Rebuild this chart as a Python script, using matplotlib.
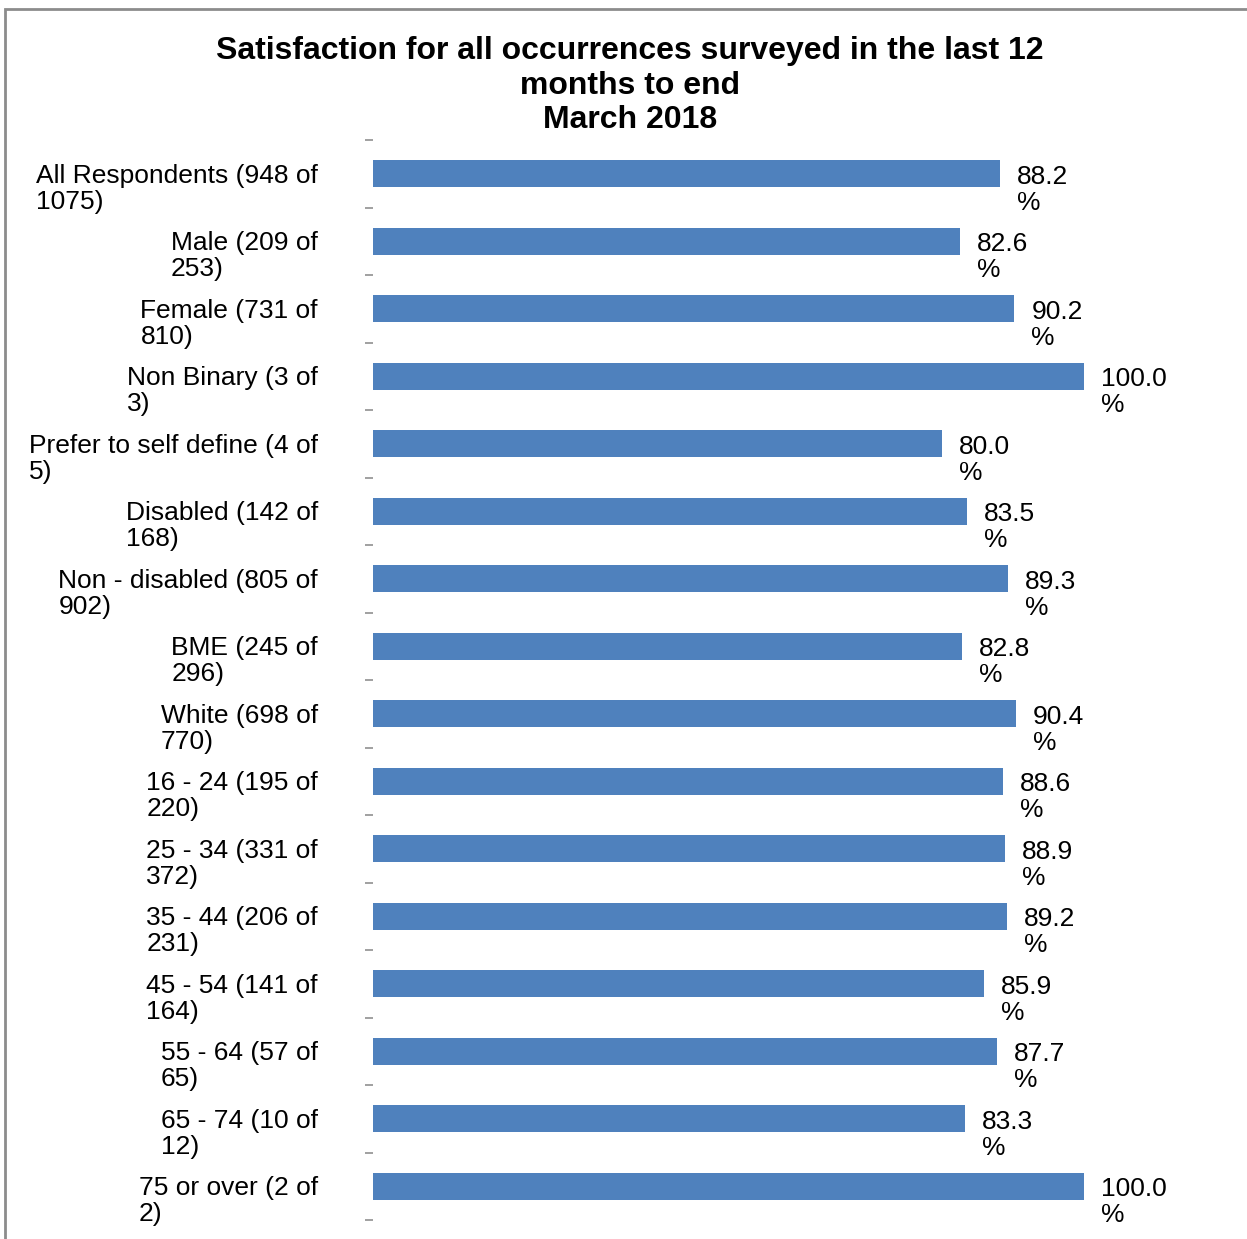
import matplotlib
matplotlib.use('Agg')
import matplotlib.pyplot as plt
from matplotlib.patches import Rectangle

# === Données ===
categories = [
    "All Respondents (948 of\n1075)",
    "Male (209 of\n253)",
    "Female (731 of\n810)",
    "Non Binary (3 of\n3)",
    "Prefer to self define (4 of\n5)",
    "Disabled (142 of\n168)",
    "Non - disabled (805 of\n902)",
    "BME (245 of\n296)",
    "White (698 of\n770)",
    "16 - 24 (195 of\n220)",
    "25 - 34 (331 of\n372)",
    "35 - 44 (206 of\n231)",
    "45 - 54 (141 of\n164)",
    "55 - 64 (57 of\n65)",
    "65 - 74 (10 of\n12)",
    "75 or over (2 of\n2)",
]
satisfaction = [88.2, 82.6, 90.2, 100.0, 80.0, 83.5, 89.3, 82.8,
                90.4, 88.6, 88.9, 89.2, 85.9, 87.7, 83.3, 100.0]

plt.rcParams['font.family'] = ['Liberation Sans', 'DejaVu Sans']

W, H = 1247, 1239
fig = plt.figure(figsize=(W / 100, H / 100), dpi=100)
ax = fig.add_axes([373 / W, 1 - 1220 / H, (1084 - 373) / W, (1220 - 140) / H])

pos = list(range(len(categories)))
ax.barh(pos, satisfaction, height=0.4, color='#4F81BD')
ax.set_xlim(0, 100)
ax.set_ylim(len(categories) - 0.5, -0.5)

# graduations aux limites des catégories
ax.set_yticks([p - 0.5 for p in pos] + [len(categories) - 0.5])
ax.set_yticklabels([])
ax.tick_params(axis='y', length=6, width=1.2, color='#909090')
ax.set_xticks([])
for s in ax.spines.values():
    s.set_visible(False)

for p, lab, v in zip(pos, categories, satisfaction):
    ax.annotate(lab, xy=(0, p), xytext=(-55, -15), textcoords='offset pixels',
                ha='right', va='center', multialignment='left',
                fontsize=19, linespacing=1.12, annotation_clip=False)
    ax.annotate(f"{v:.1f}\n%", xy=(v, p), xytext=(17, -16), textcoords='offset pixels',
                ha='left', va='center', multialignment='left',
                fontsize=19, linespacing=1.12, annotation_clip=False)

fig.text(630 / W, 1 - 36 / H,
         "Satisfaction for all occurrences surveyed in the last 12\nmonths to end\nMarch 2018",
         ha='center', va='top', fontsize=23, fontweight='bold', linespacing=1.2)

# cadre du graphique
fig.patches.append(Rectangle((5 / W, -0.1), 1.2, 1.1 - 9 / H,
                             transform=fig.transFigure, fill=False,
                             edgecolor='#8c8c8c', linewidth=2))

fig.savefig('out.png', dpi=100)
